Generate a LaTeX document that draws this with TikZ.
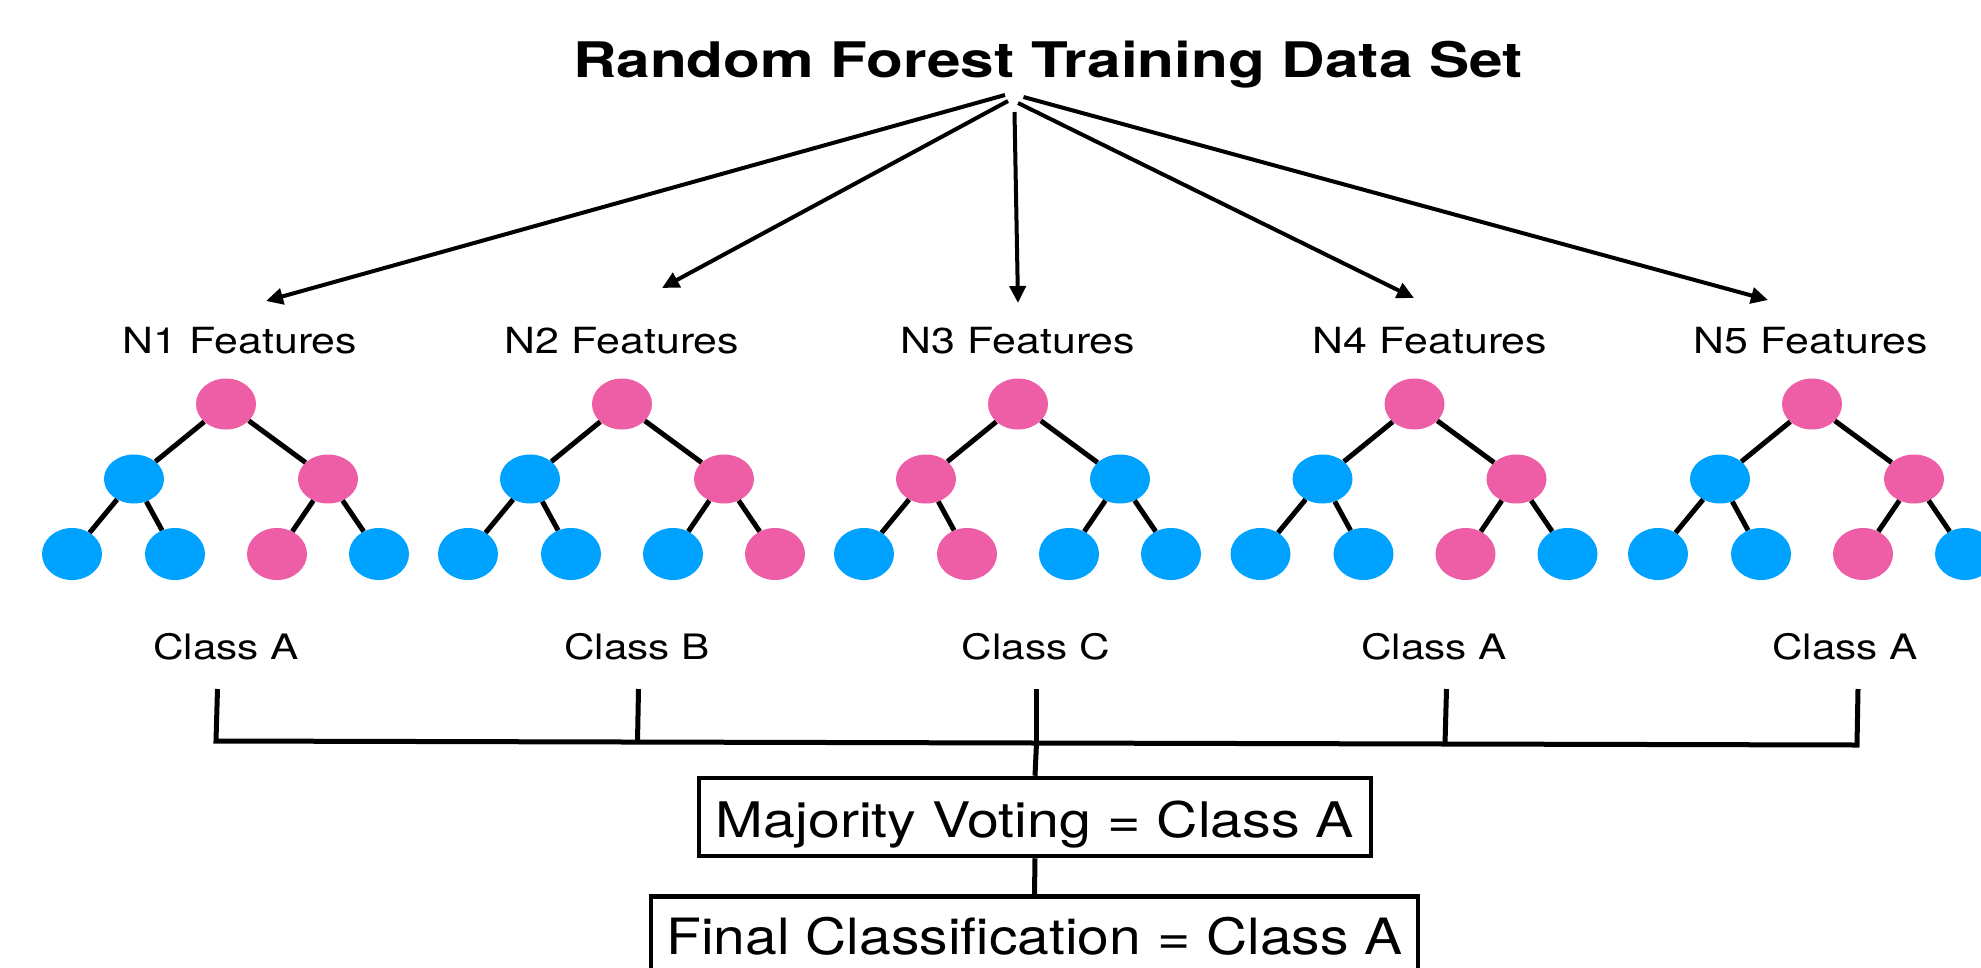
\documentclass[tikz,border=0pt]{standalone}
\usepackage{fontspec}
\setmainfont{TeX Gyre Heros}
\newfontfamily\titlefont[FakeStretch=1.23]{TeX Gyre Heros}
\newfontfamily\featfont[FakeStretch=1.19]{TeX Gyre Heros}
\newfontfamily\classfont[FakeStretch=1.21]{TeX Gyre Heros}
\newfontfamily\majfont[FakeStretch=1.17]{TeX Gyre Heros}
\newfontfamily\finfont[FakeStretch=1.14]{TeX Gyre Heros}
\usetikzlibrary{shapes.geometric,arrows.meta}
\definecolor{rfpink}{RGB}{238,94,166}
\definecolor{rfblue}{RGB}{0,162,255}
\begin{document}
\begin{tikzpicture}[x=1pt,y=-1pt,
  tnode/.style={ellipse,inner sep=0pt,minimum width=60pt,minimum height=51pt},
  edge/.style={line width=5pt},
  arr/.style={line width=4pt,-{Triangle[length=17pt,width=16pt]}},
  brk/.style={line width=5pt},
  vbox/.style={draw,line width=4.5pt,inner sep=0pt},
  feat/.style={anchor=base,font=\featfont\fontsize{36}{43}\selectfont},
  cls/.style={anchor=base,font=\classfont\fontsize{35}{42}\selectfont}]
\useasboundingbox (0,0) rectangle (1981,967);
\clip (0,0) rectangle (1981,967);
\fill[white] (0,0) rectangle (1981,967);

% title
\node[anchor=base,font=\titlefont\bfseries\fontsize{49}{58}\selectfont] (title) at (1048,77) {Random Forest Training Data Set};

% arrows
\coordinate (s1) at (1005,95);
\coordinate (s2) at (1008,101);
\coordinate (s3) at (1014.5,112);
\coordinate (s4) at (1018,103);
\coordinate (s5) at (1023.5,97);
\coordinate (e1) at (266,301);
\coordinate (e2) at (662,288);
\coordinate (e3) at (1018,303);
\coordinate (e4) at (1414,298);
\coordinate (e5) at (1768,300);
\foreach \k in {1,...,5}{\draw[arr] (s\k) -- (e\k);}

% feature labels
\node[feat] (f1) at (240,353) {N1 Features};
\node[feat] (f2) at (622,353) {N2 Features};
\node[feat] (f3) at (1018,353) {N3 Features};
\node[feat] (f4) at (1430,353) {N4 Features};
\node[feat] (f5) at (1811,353) {N5 Features};

% trees
\foreach \i/\x/\qr/\qa/\qb/\qc/\qd/\qe/\qf in {
  1/226/rfpink/rfblue/rfpink/rfblue/rfblue/rfpink/rfblue,
  2/622/rfpink/rfblue/rfpink/rfblue/rfblue/rfblue/rfpink,
  3/1018/rfpink/rfpink/rfblue/rfblue/rfpink/rfblue/rfblue,
  4/1414.5/rfpink/rfblue/rfpink/rfblue/rfblue/rfpink/rfblue,
  5/1812/rfpink/rfblue/rfpink/rfblue/rfblue/rfpink/rfblue}{
  \node[tnode,fill=\qr] (t\i-r) at (\x,404) {};
  \node[tnode,fill=\qa,minimum height=49pt] (t\i-a) at (\x-92,479) {};
  \node[tnode,fill=\qb,minimum height=49pt] (t\i-b) at (\x+102,479) {};
  \node[tnode,fill=\qc,minimum height=52pt] (t\i-c) at (\x-154,554) {};
  \node[tnode,fill=\qd,minimum height=52pt] (t\i-d) at (\x-51,554) {};
  \node[tnode,fill=\qe,minimum height=52pt] (t\i-e) at (\x+51,554) {};
  \node[tnode,fill=\qf,minimum height=52pt] (t\i-f) at (\x+153,554) {};
  \draw[edge] (t\i-r) -- (t\i-a);
  \draw[edge] (t\i-r) -- (t\i-b);
  \draw[edge] (t\i-a) -- (t\i-c);
  \draw[edge] (t\i-a) -- (t\i-d);
  \draw[edge] (t\i-b) -- (t\i-e);
  \draw[edge] (t\i-b) -- (t\i-f);
}

% class labels
\node[cls] (c1) at (226,659) {Class A};
\node[cls] (c2) at (637,659) {Class B};
\node[cls] (c3) at (1036,659) {Class C};
\node[cls] (c4) at (1434,659) {Class A};
\node[cls] (c5) at (1845,659) {Class A};

% bracket
\coordinate (k1t) at (217.5,689); \coordinate (k1b) at (216,741);
\coordinate (k2t) at (638.5,689); \coordinate (k2b) at (637.5,742);
\coordinate (k3t) at (1036.5,689); \coordinate (k3b) at (1036.5,743);
\coordinate (k4t) at (1446.5,689); \coordinate (k4b) at (1445,744);
\coordinate (k5t) at (1858,689); \coordinate (k5b) at (1857,745);
\draw[brk,line join=miter] (k1t) -- (k1b) -- (k5b) -- (k5t);
\draw[brk] (k2t) -- (k2b);
\draw[brk] (k3t) -- (k3b);
\draw[brk] (k4t) -- (k4b);

% boxes
\node[vbox,minimum width=672pt,minimum height=78pt,text height=40pt,text depth=0pt,
  font=\majfont\fontsize{49}{58}\selectfont] (maj) at (1035,817) {Majority Voting = Class A};
\node[vbox,anchor=north,minimum width=767pt,text height=36pt,text depth=26pt,inner ysep=22pt,
  font=\finfont\fontsize{50}{60}\selectfont] (fin) at (1034.5,894) {Final Classification = Class A};
\draw[brk] (k3b) -- (maj.north);
\draw[brk] (maj.south) -- (fin.north);
\end{tikzpicture}
\end{document}
